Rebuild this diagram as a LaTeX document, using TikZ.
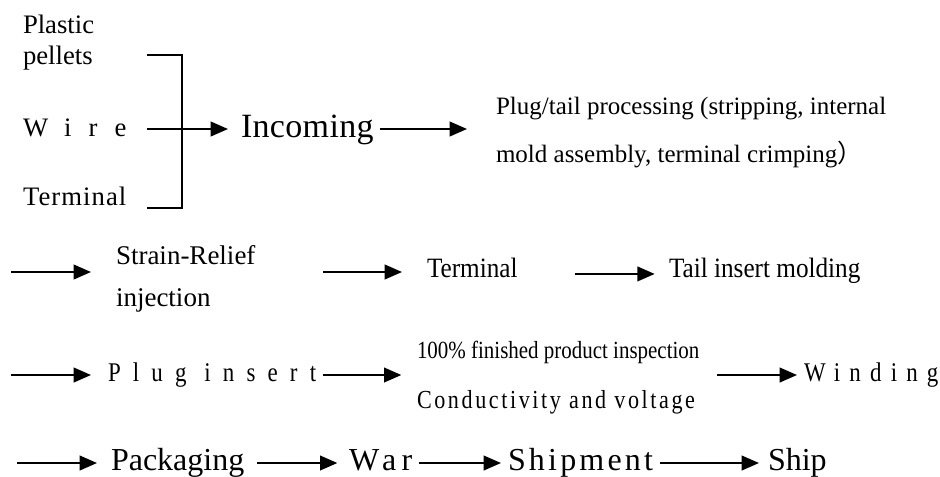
\documentclass[tikz,border=0pt]{standalone}
\usepackage{fontspec}
\setmainfont{Liberation Serif}
\newfontfamily\narrowfont[FakeStretch=0.9]{Liberation Serif}
\newfontfamily\tightfont[FakeStretch=0.85]{Liberation Serif}
\newfontfamily\cjkfont{Noto Sans CJK SC}
\usetikzlibrary{arrows.meta, calc}

\begin{document}
\begin{tikzpicture}[x=0.75pt, y=-0.75pt, line width=1.5pt,
    >={Triangle[length=13pt, width=11pt]},
    txt/.style={inner sep=0pt, anchor=base west},
    block/.style={inner sep=0pt, anchor=west, align=left},
    raw/.style={txt, font=\fontsize{20pt}{24pt}\selectfont},
    stage/.style={txt, font=\fontsize{21pt}{25pt}\narrowfont},
    final/.style={txt, font=\fontsize{24pt}{29pt}\selectfont}]
  \useasboundingbox (0,0) rectangle (940,476);
  % Raw materials
  \node[raw] (plastic) at (22,33) {Plastic};
  \node[raw] (pellets) at (22,64) {pellets};
  \node[raw, font=\fontsize{20pt}{24pt}\selectfont\addfontfeature{LetterSpace=64}]
    (wire) at (22,136) {Wire};
  \node[raw, font=\fontsize{20pt}{24pt}\selectfont\addfontfeature{LetterSpace=4}]
    (terminal) at (22,205) {Terminal};
  \coordinate (brtop) at (147,55);
  \coordinate (brbot) at (147,208);
  \coordinate (brjoin) at (182,129);
  \draw (brtop) -| (brjoin) |- (brbot);
  % Row 1
  \node[txt, font=\fontsize{25.5pt}{30pt}\selectfont\addfontfeature{LetterSpace=1}]
    (incoming) at (240,137) {Incoming};
  \node[block, font=\fontsize{18.75pt}{36pt}\selectfont] (process) at (495,133)
    {Plug/tail processing (stripping, internal\\
     mold assembly, terminal crimping{\cjkfont ）}};
  \draw[->, shorten >=9pt] (brjoin -| brtop) -- (brjoin -| incoming.west);
  \draw[->, shorten <=4pt, shorten >=21pt] (incoming.east |- brjoin) -- (brjoin -| process.west);
  % Row 2
  \coordinate (row2) at (11,272);
  \node[block, font=\fontsize{20.25pt}{31.5pt}\selectfont] (strain) at (115,279)
    {Strain-Relief\\injection};
  \node[stage] (termstep) at (426,277) {Terminal};
  \node[stage] (tail) at (668,277) {Tail insert molding};
  \draw[->, shorten >=18pt] (row2) -- (row2 -| strain.west);
  \draw[->, shorten <=50pt, shorten >=18pt] (row2 -| strain.east) -- (row2 -| termstep.west);
  \draw[->, shorten <=42pt, shorten >=10pt] (termstep.mid east) -- (tail.mid west);
  % Row 3
  \coordinate (row3) at (11,375);
  \node[txt, font=\fontsize{20.25pt}{25pt}\tightfont\addfontfeature{LetterSpace=45}]
    (plug) at (107,381) {Plug insert};
  \node[block, font=\fontsize{18.5pt}{37.5pt}\tightfont] (insp) at (416,378)
    {100\% finished product inspection\\
     {\fontsize{19.5pt}{37.5pt}\selectfont\addfontfeature{LetterSpace=10}Conductivity and voltage}};
  \node[txt, font=\fontsize{20.25pt}{25pt}\tightfont\addfontfeature{LetterSpace=34}]
    (winding) at (803,381) {Winding};
  \draw[->, shorten >=12pt] (row3) -- (row3 -| plug.west);
  \draw[->, shorten <=4pt, shorten >=11pt] (row3 -| plug.east) -- (row3 -| insp.west);
  \draw[->, shorten <=12.75pt, shorten >=4.5pt] (row3 -| insp.east) -- (row3 -| winding.west);
  % Row 4
  \coordinate (row4) at (17,463);
  \node[final] (pack) at (110,470) {Packaging};
  \node[final, font=\fontsize{24pt}{29pt}\selectfont\addfontfeature{LetterSpace=17}]
    (war) at (348,470) {War};
  \node[final, font=\fontsize{24pt}{29pt}\selectfont\addfontfeature{LetterSpace=10}]
    (shipment) at (507,470) {Shipment};
  \node[final] (ship) at (767,470) {Ship};
  \draw[->, shorten >=9.75pt] (row4) -- (row4 -| pack.west);
  \draw[->, shorten <=9pt, shorten >=8pt] (row4 -| pack.east) -- (row4 -| war.west);
  \draw[->, shorten <=4pt, shorten >=4.5pt] (row4 -| war.east) -- (row4 -| shipment.west);
  \draw[->, shorten <=4.5pt, shorten >=6pt] (row4 -| shipment.east) -- (row4 -| ship.west);
\end{tikzpicture}
\end{document}
